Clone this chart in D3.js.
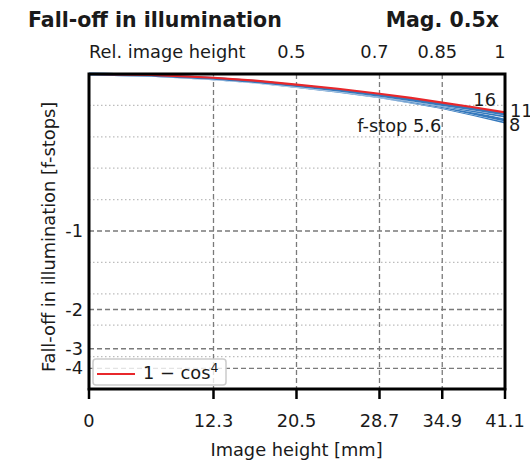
<!DOCTYPE html>
<html>
<head>
<meta charset="utf-8">
<script src="https://cdn.jsdelivr.net/npm/d3@7"></script>
<style>
  body { margin: 0; background: #fff; }
  svg text { font-family: "DejaVu Sans", sans-serif; fill: #1a1a1a; }
</style>
</head>
<body>
<div class="falloff"></div>
<script>
// image height in mm (bottom axis) and relative height labels (top axis)
const tickMM = [0, 12.3, 20.5, 28.7, 34.9, 41.1];
const relTicks = [{ mm: 20.5, label: "0.5" }, { mm: 28.7, label: "0.7" }, { mm: 34.9, label: "0.85" }, { mm: 41.1, label: "1" }];
const stopTicks = [-1, -2, -3, -4];
const minorFrac = [0.9, 0.8, 0.7, 0.6, 0.4, 0.3, 0.2, 0.1];

// sample positions along the image height
const heights = [0, 6.15, 12.3, 16.4, 20.5, 24.6, 28.7, 31.8, 34.9, 38.0, 41.1];
// relative illumination (1 = centre)
const cos4 = [1, 0.997, 0.988, 0.979, 0.966, 0.953, 0.937, 0.924, 0.909, 0.894, 0.878];
const f16 = [1, 0.996, 0.986, 0.976, 0.963, 0.949, 0.932, 0.918, 0.903, 0.888, 0.872];
const f11 = [1, 0.996, 0.986, 0.976, 0.962, 0.948, 0.930, 0.916, 0.900, 0.883, 0.866];
const f8 = [1, 0.996, 0.985, 0.975, 0.961, 0.946, 0.928, 0.913, 0.896, 0.875, 0.853];
const f56 = [1, 0.996, 0.985, 0.974, 0.960, 0.945, 0.927, 0.911, 0.893, 0.871, 0.847];

const draw = () => {
    const W = 530, H = 465;
    const margin = { top: 74, right: 25, bottom: 77, left: 89 };
    const width = W - margin.left - margin.right;
    const height = H - margin.top - margin.bottom;
    const fs = 17.8;

    const root = d3.select(".falloff").append("svg")
        .attr("width", W).attr("height", H);
    const svg = root.append("g")
        .attr("transform", "translate(" + margin.left + "," + margin.top + ")");

    const x = d3.scaleLinear().domain([0, 41.1]).range([0, width]);
    const y = d3.scaleLinear().domain([0, 1]).range([height, 0]);

    // minor dotted grid
    svg.selectAll(".minor").data(minorFrac).enter().append("line")
        .attr("x1", 0).attr("x2", width)
        .attr("y1", d => y(d)).attr("y2", d => y(d))
        .attr("stroke", "#bdbdbd").attr("stroke-width", 1.2)
        .attr("stroke-dasharray", "1.5,2.5");

    // major dashed grid (f-stops)
    svg.selectAll(".major").data(stopTicks).enter().append("line")
        .attr("x1", 0).attr("x2", width)
        .attr("y1", d => y(Math.pow(2, d))).attr("y2", d => y(Math.pow(2, d)))
        .attr("stroke", "#7a7a7a").attr("stroke-width", 1.3)
        .attr("stroke-dasharray", "5,3");

    svg.selectAll(".vgrid").data(tickMM.slice(1, -1)).enter().append("line")
        .attr("x1", d => x(d)).attr("x2", d => x(d))
        .attr("y1", 0).attr("y2", height)
        .attr("stroke", "#7a7a7a").attr("stroke-width", 1.3)
        .attr("stroke-dasharray", "5,3");

    // curves
    const line = d3.line()
        .x((d, i) => x(heights[i]))
        .y(d => y(d));

    [f56, f8, f11, f16].forEach(s => {
        svg.append("path").datum(s)
            .attr("fill", "none").attr("stroke", "#fff").attr("stroke-width", 3.4)
            .attr("d", line);
        svg.append("path").datum(s)
            .attr("fill", "none").attr("stroke", "#3579bd").attr("stroke-width", 2.9)
            .attr("d", line);
    });
    svg.append("path").datum(cos4)
        .attr("fill", "none").attr("stroke", "#e8272b").attr("stroke-width", 2.2)
        .attr("d", line);

    // curve labels
    const lastY = s => y(s[s.length - 1]);
    svg.append("text").attr("x", width - 9).attr("y", lastY(f16) - 8)
        .attr("text-anchor", "end").attr("font-size", fs).text("16");
    svg.append("text").attr("x", width + 5).attr("y", lastY(f11) + 1)
        .attr("font-size", fs).text("11");
    svg.append("text").attr("x", width + 4).attr("y", lastY(f8) + 11)
        .attr("font-size", fs).text("8");
    svg.append("text").attr("x", x(34.9) - 1).attr("y", lastY(f56) + 10)
        .attr("text-anchor", "end").attr("font-size", fs).text("f-stop 5.6");

    // spines
    svg.append("rect").attr("x", 0).attr("y", 0)
        .attr("width", width).attr("height", height + 1)
        .attr("fill", "none").attr("stroke", "#000").attr("stroke-width", 3);

    // bottom ticks + labels
    svg.selectAll(".xt").data(tickMM).enter().append("line")
        .attr("x1", d => x(d)).attr("x2", d => x(d))
        .attr("y1", height).attr("y2", height + 11)
        .attr("stroke", "#000").attr("stroke-width", 2.5);
    svg.selectAll(".xl").data(tickMM).enter().append("text")
        .attr("x", d => x(d)).attr("y", height + 39)
        .attr("text-anchor", "middle").attr("font-size", fs)
        .text(d => d === 0 ? "0" : d3.format(".1f")(d));
    svg.append("text").attr("x", x(20.5)).attr("y", height + 68)
        .attr("text-anchor", "middle").attr("font-size", fs)
        .text("Image height [mm]");

    // top labels
    svg.append("text").attr("x", 0).attr("y", -16)
        .attr("font-size", fs).text("Rel. image height");
    svg.selectAll(".tl").data(relTicks).enter().append("text")
        .attr("x", d => x(d.mm) - 5).attr("y", -16)
        .attr("text-anchor", "middle").attr("font-size", fs)
        .text(d => d.label);

    // left labels
    svg.selectAll(".yl").data(stopTicks).enter().append("text")
        .attr("x", -6).attr("y", d => y(Math.pow(2, d)) + 6)
        .attr("text-anchor", "end").attr("font-size", fs)
        .text(d => "-" + Math.abs(d));
    svg.append("text")
        .attr("transform", "translate(-34," + 163 + ") rotate(-90)")
        .attr("text-anchor", "middle").attr("font-size", fs)
        .text("Fall-off in illumination [f-stops]");

    // legend
    const lg = svg.append("g").attr("transform", "translate(4," + (height - 29) + ")");
    lg.append("rect").attr("width", 133).attr("height", 26).attr("rx", 3)
        .attr("fill", "#fff").attr("fill-opacity", 0.8)
        .attr("stroke", "#cccccc").attr("stroke-width", 1.5);
    lg.append("line").attr("x1", 4).attr("x2", 42).attr("y1", 15).attr("y2", 15)
        .attr("stroke", "#e8272b").attr("stroke-width", 2.2);
    const lt = lg.append("text").attr("x", 50).attr("y", 20).attr("font-size", fs);
    lt.append("tspan").text("1 \u2212 cos");
    lt.append("tspan").attr("font-size", 12.5).attr("dy", -7).text("4");

    // titles
    root.append("text").attr("x", 28).attr("y", 27)
        .attr("font-size", 20.5).attr("font-weight", "bold").text("Fall-off in illumination");
    root.append("text").attr("x", 499).attr("y", 27).attr("text-anchor", "end")
        .attr("font-size", 20.5).attr("font-weight", "bold").text("Mag. 0.5x");
};

draw();
</script>
</body>
</html>
